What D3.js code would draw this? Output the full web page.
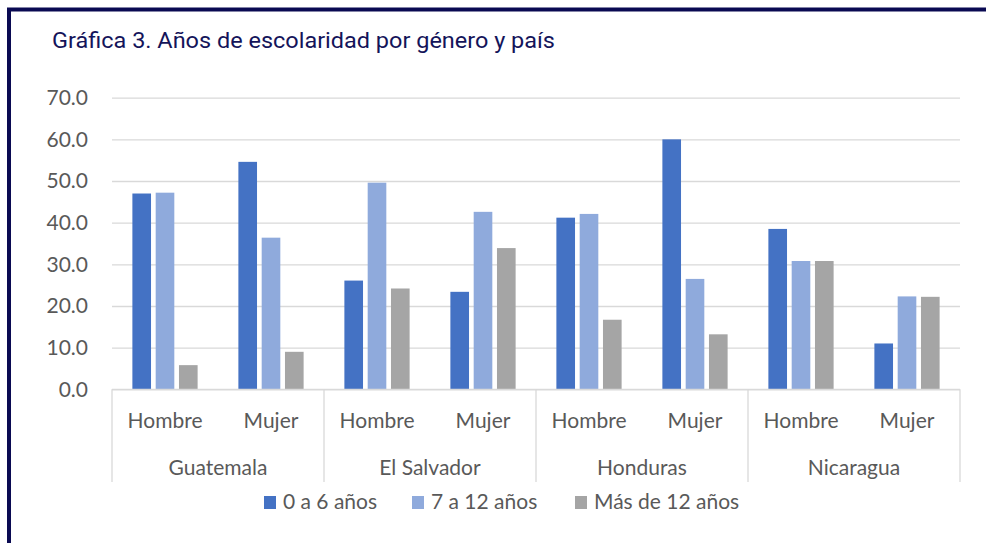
<!DOCTYPE html>
<html>
<head>
<meta charset="utf-8">
<script src="https://cdn.jsdelivr.net/npm/d3@7"></script>
<style>
  html, body { margin: 0; padding: 0; background: #fff; }
  svg { display: block; }
</style>
</head>
<body>
<svg width="986" height="543"></svg>
<script>
// datos
var countries = ["Guatemala", "El Salvador", "Honduras", "Nicaragua"];
var genders = ["Hombre", "Mujer"];
var seriesNames = ["0 a 6 años", "7 a 12 años", "Más de 12 años"];
var seriesColors = ["#4472c4", "#8faadc", "#a5a5a5"];
var yTicks = [0, 10, 20, 30, 40, 50, 60, 70];

// valores por pais / genero (Hombre, Mujer)
var serie0a6 = [47.0, 54.6, 26.1, 23.4, 41.2, 60.0, 38.5, 11.0];
var serie7a12 = [47.2, 36.4, 49.6, 42.6, 42.1, 26.5, 30.8, 22.3];
var serieMas12 = [5.8, 9.0, 24.2, 33.9, 16.7, 13.2, 30.8, 22.2];

var allSeries = [serie0a6, serie7a12, serieMas12];

var svg = d3.select("svg");
var labelFont = "Lato, sans-serif";

// marco
svg.append("path")
    .attr("d", "M9,543 L9,9.5 L986,9.5")
    .attr("fill", "none")
    .attr("stroke", "#0a0a52")
    .attr("stroke-width", 4);

// titulo
svg.append("text")
    .attr("x", 52)
    .attr("y", 48)
    .attr("font-family", "Roboto, 'Noto Sans', sans-serif")
    .attr("font-size", 22.5)
    .attr("textLength", 503)
    .attr("lengthAdjust", "spacingAndGlyphs")
    .attr("fill", "#14145a")
    .text("Gráfica 3. Años de escolaridad por género y país");

var plotLeft = 112, plotRight = 960, plotTop = 97.7, plotBottom = 389.3;

var y = d3.scaleLinear().domain([0, 70]).range([plotBottom, plotTop]);

// categorias (pais|genero)
var cats = [];
countries.forEach(function (c) {
    genders.forEach(function (g) {
        cats.push(c + "|" + g);
    });
});

var x0 = d3.scaleBand().domain(cats).range([plotLeft, plotRight]);
var xc = d3.scaleBand().domain(countries).range([plotLeft, plotRight]);
var x1 = d3.scaleBand().domain(d3.range(3))
    .range([0, x0.bandwidth()])
    .paddingInner(0.2)
    .paddingOuter(0.875);

// rejilla
var grid = svg.append("g")
    .attr("transform", "translate(" + plotLeft + ",0)")
    .call(d3.axisLeft(y).tickValues(yTicks).tickSize(-(plotRight - plotLeft)).tickFormat(""));
grid.select(".domain").remove();
grid.selectAll("line").attr("stroke", "#d9d9d9").attr("stroke-width", 1.3);

// etiquetas eje y
svg.append("g")
    .selectAll("text")
    .data(yTicks)
    .enter()
    .append("text")
    .attr("x", 88)
    .attr("y", function (d) {
        return y(d)
    })
    .attr("dy", ".35em")
    .attr("text-anchor", "end")
    .attr("font-family", labelFont)
    .attr("font-size", 21)
    .attr("fill", "#595959")
    .text(function (d) {
        return d.toFixed(1);
    });

// barras
var groups = svg.append("g")
    .selectAll("g")
    .data(cats)
    .enter()
    .append("g")
    .attr("transform", function (d) {
        return "translate(" + x0(d) + ",0)";
    });

groups.selectAll("rect")
    .data(function (d, i) {
        return allSeries.map(function (s, k) {
            return {k: k, v: s[i]};
        });
    })
    .enter()
    .append("rect")
    .attr("x", function (d) {
        return x1(d.k)
    })
    .attr("y", function (d) {
        return y(d.v)
    })
    .attr("width", x1.bandwidth())
    .attr("height", function (d) {
        return plotBottom - y(d.v)
    })
    .attr("fill", function (d) {
        return seriesColors[d.k]
    });

// eje x: linea base y separadores
svg.append("line")
    .attr("x1", plotLeft).attr("x2", plotRight)
    .attr("y1", plotBottom).attr("y2", plotBottom)
    .attr("stroke", "#d9d9d9").attr("stroke-width", 1.3);

var seps = countries.map(function (c) {
    return xc(c);
}).concat([plotRight]);
svg.append("g")
    .selectAll("line")
    .data(seps)
    .enter()
    .append("line")
    .attr("x1", function (d) {
        return d
    })
    .attr("x2", function (d) {
        return d
    })
    .attr("y1", plotBottom)
    .attr("y2", 482)
    .attr("stroke", "#d9d9d9")
    .attr("stroke-width", 1.3);

// etiquetas genero
svg.append("g")
    .selectAll("text")
    .data(cats)
    .enter()
    .append("text")
    .attr("x", function (d) {
        return x0(d) + x0.bandwidth() / 2
    })
    .attr("y", 428)
    .attr("text-anchor", "middle")
    .attr("font-family", labelFont)
    .attr("font-size", 21)
    .attr("fill", "#595959")
    .text(function (d) {
        return d.split("|")[1];
    });

// etiquetas pais
svg.append("g")
    .selectAll("text")
    .data(countries)
    .enter()
    .append("text")
    .attr("x", function (d) {
        return xc(d) + xc.bandwidth() / 2
    })
    .attr("y", 475)
    .attr("text-anchor", "middle")
    .attr("font-family", labelFont)
    .attr("font-size", 21)
    .attr("fill", "#595959")
    .text(function (d) {
        return d;
    });

// leyenda
var legendX = [264, 412, 575];
var legend = svg.append("g")
    .selectAll("g")
    .data(seriesNames)
    .enter()
    .append("g")
    .attr("transform", function (d, i) {
        return "translate(" + legendX[i] + ",496)";
    });
legend.append("rect")
    .attr("width", 12)
    .attr("height", 13)
    .attr("fill", function (d, i) {
        return seriesColors[i]
    });
legend.append("text")
    .attr("x", 19)
    .attr("y", 13)
    .attr("font-family", labelFont)
    .attr("font-size", 21)
    .attr("fill", "#595959")
    .text(function (d) {
        return d;
    });
</script>
</body>
</html>
